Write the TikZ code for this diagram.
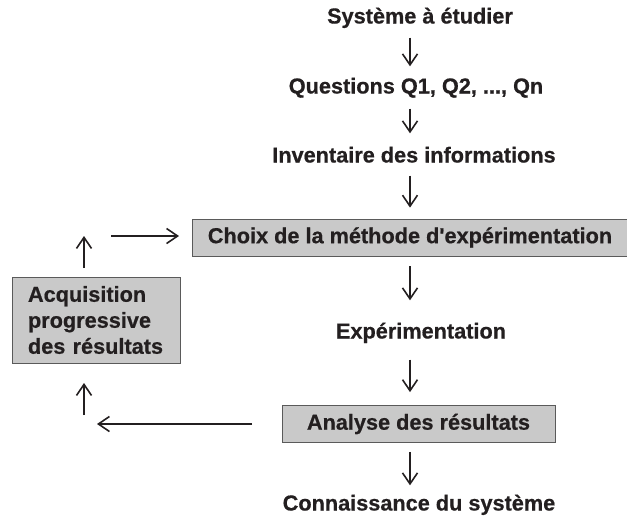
\documentclass[tikz,border=0pt]{standalone}
\usepackage{fontspec}
\setmainfont{Liberation Sans}[Ligatures=TeXOff, BoldFeatures={FakeBold=0.6}]
\usetikzlibrary{arrows.meta}
\definecolor{ink}{HTML}{231F20}
\definecolor{boxfill}{HTML}{C9C9C9}
\definecolor{boxline}{HTML}{5A5A5A}
\begin{document}
\begin{tikzpicture}[x=1pt,y=-1pt,
  every node/.style={font=\fontsize{21.7}{26}\selectfont\bfseries, text=ink},
  lbl/.style={inner sep=0pt, text height=15pt, text depth=4pt},
  gbox/.style={draw=boxline, line width=0.8pt, fill=boxfill, inner sep=0pt},
  arr/.style={draw=ink, line width=1.2pt,
    -{Straight Barb[length=11pt,width=15pt,line width=1.6pt]}}
]
\useasboundingbox (0,0) rectangle (627,517);
\coordinate (axis) at (410,0);

% main column
\node[lbl] (sys) at (420,18) {Système à étudier};
\node[lbl] (qst) at (416,88) {Questions Q1, Q2, ..., Qn};
\node[lbl] (inv) at (414,157) {Inventaire des informations};
\node[gbox, minimum width=436pt, minimum height=37pt] (choix) at (410,237.5)
  {Choix de la méthode d'expérimentation};
\node[lbl] (exp) at (421,333) {Expérimentation};
\node[gbox, minimum width=273pt, minimum height=37pt] (ana) at (418.5,424)
  {Analyse des résultats};
\node[lbl] (con) at (419,505) {Connaissance du système};

% feedback box
\node[gbox, minimum width=168pt, minimum height=86pt, align=left,
      text width=136pt] (acq) at (96,320)
  {Acquisition\\progressive\\des résultats};

% loose ends of the feedback loop
\coordinate (fbA) at (252,424);
\coordinate (fbB) at (97,424);
\coordinate (fbC) at (84,415);
\coordinate (fbD) at (84,383);
\coordinate (fbE) at (84,268);
\coordinate (fbF) at (84,236);
\coordinate (fbG) at (111,236);
\coordinate (fbH) at (179,236);

% downward flow
\draw[arr, shorten <=10pt, shorten >=12pt] (sys.south -| axis) -- (qst.north -| axis);
\draw[arr, shorten <=11pt, shorten >=14pt] (qst.south -| axis) -- (inv.north -| axis);
\draw[arr, shorten <=9pt, shorten >=11pt] (inv.south -| axis) -- (choix.north -| axis);
\draw[arr, shorten <=10pt, shorten >=23pt] (choix.south -| axis) -- (exp.north -| axis);
\draw[arr, shorten <=17pt, shorten >=13pt] (exp.south -| axis) -- (ana.north -| axis);
\draw[arr, shorten <=9pt, shorten >=10pt] (ana.south -| axis) -- (con.north -| axis);

% feedback loop
\draw[arr] (fbA) -- (fbB);
\draw[arr] (fbC) -- (fbD);
\draw[arr] (fbE) -- (fbF);
\draw[arr] (fbG) -- (fbH);
\end{tikzpicture}
\end{document}
